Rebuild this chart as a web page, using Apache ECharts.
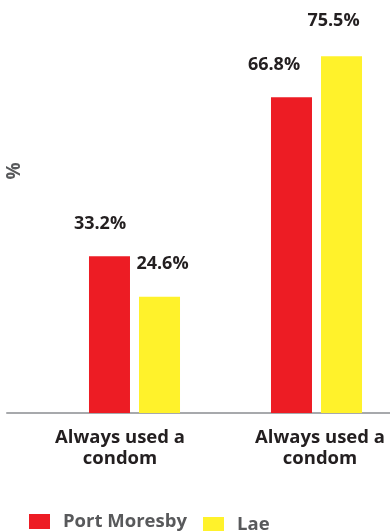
<!DOCTYPE html>
<html>
<head>
<meta charset="utf-8">
<script src="https://cdn.jsdelivr.net/npm/echarts@6/dist/echarts.min.js"></script>
<style>
html,body{margin:0;padding:0;background:#fff;}
#chart{width:390px;height:531px;}
</style>
</head>
<body>
<div id="chart"></div>
<script>
// ---- data ----
const categories = ['Always used a\ncondom', 'Always used a\ncondom'];
const seriesNames = ['Port Moresby', 'Lae'];
const portMoresby = [33.2, 66.8];
const lae = [24.6, 75.5];
const axisName = '%';

// ---- styles ----
const colors = ['#ed1c24', '#fff22b'];
const labelOffsets = [
  [[-9.5, -23], [-17.5, -23]],
  [[3, -24], [-8, -26]]
];
const catLabelPadding = [[0, 29, 0, 0], [0, 0, 0, 7]];
const FONT = '"Open Sans", sans-serif';

const chart = echarts.init(document.getElementById('chart'), null, {renderer: 'canvas'});

function makeSeries(i, values) {
  return {
    name: seriesNames[i],
    type: 'bar',
    xAxisIndex: 0,
    yAxisIndex: 0,
    barWidth: 41,
    barGap: '22%',
    itemStyle: {color: colors[i]},
    data: values.map((v, j) => ({
      value: v,
      label: {offset: labelOffsets[i][j]}
    })),
    label: {
      show: true,
      position: 'top',
      distance: 0,
      formatter: p => p.value.toFixed(1) + '%',
      fontFamily: FONT,
      fontWeight: 'bold',
      fontSize: 18,
      color: '#231f20'
    }
  };
}

const legendText = {fontFamily: FONT, fontWeight: 'bold', fontSize: 18.5, color: '#58595b', padding: [0, 0, 0, 8]};

const option = {
  animation: false,
  backgroundColor: '#ffffff',
  grid: [
    {left: 134.5, right: 73.5, top: 35, height: 378},
    {left: 7, right: 0, top: 35, height: 378}
  ],
  xAxis: [
    {
      type: 'category',
      gridIndex: 0,
      boundaryGap: false,
      data: categories.map((c, i) => ({value: c, textStyle: {padding: catLabelPadding[i]}})),
      axisLine: {show: false},
      axisTick: {show: false},
      axisLabel: {
        interval: 0,
        margin: 14,
        fontFamily: FONT,
        fontWeight: 'bold',
        fontSize: 18.5,
        lineHeight: 21,
        color: '#231f20'
      }
    },
    {
      type: 'value',
      gridIndex: 1,
      min: 0, max: 1,
      axisLine: {show: true, lineStyle: {color: '#a7a9ac', width: 2}},
      axisTick: {show: false},
      axisLabel: {show: false},
      splitLine: {show: false}
    }
  ],
  yAxis: [
    {
      type: 'value', gridIndex: 0, min: 0, max: 80,
      show: false, splitLine: {show: false}
    },
    {
      type: 'value', gridIndex: 1, min: 0, max: 1,
      show: false, splitLine: {show: false}
    }
  ],
  legend: [
    {
      data: [seriesNames[0]],
      left: 29, top: 512, padding: 0,
      icon: 'rect',
      itemWidth: 21, itemHeight: 15,
      textStyle: legendText,
      selectedMode: false
    },
    {
      data: [seriesNames[1]],
      left: 203, top: 515, padding: 0,
      icon: 'rect',
      itemWidth: 21, itemHeight: 15,
      textStyle: legendText,
      selectedMode: false
    }
  ],
  graphic: [
    {
      type: 'text',
      x: 15, y: 171,
      rotation: Math.PI / 2,
      style: {
        text: axisName,
        fontFamily: FONT,
        fontWeight: 'bold',
        fontSize: 19,
        fill: '#58595b',
        align: 'center',
        verticalAlign: 'middle'
      }
    }
  ],
  series: [makeSeries(0, portMoresby), makeSeries(1, lae)]
};

chart.setOption(option);
</script>
</body>
</html>
